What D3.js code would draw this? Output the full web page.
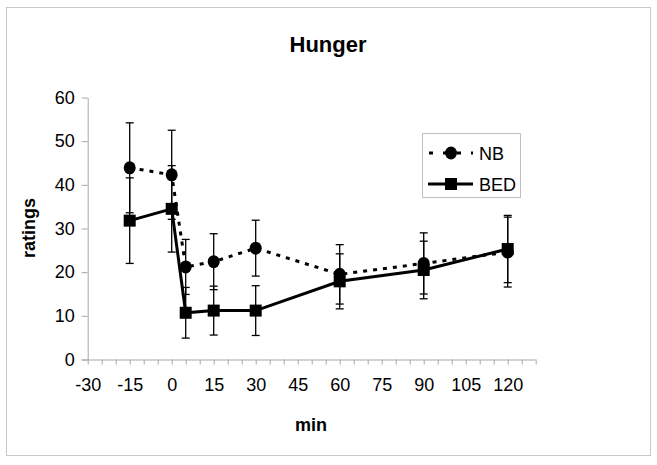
<!DOCTYPE html>
<html>
<head>
<meta charset="utf-8">
<script src="https://cdn.jsdelivr.net/npm/d3@7"></script>
<style>
  body { margin: 0; background: #fff; }
  svg { display: block; font-family: 'Liberation Sans', Arial, sans-serif; }
</style>
</head>
<body>
<svg id="canvas"></svg>
<script>
// time points (min)
let minutes = [-15, 0, 5, 15, 30, 60, 90, 120]

// NB group
let nbMean = [43.9, 42.3, 21.2, 22.4, 25.5, 19.5, 22.0, 24.6]
let nbErr = [10.3, 10.2, 6.3, 6.4, 6.4, 6.8, 7.0, 8.0]

// BED group
let bedMean = [31.8, 34.5, 10.7, 11.2, 11.2, 17.9, 20.5, 25.3]
let bedErr = [9.8, 9.9, 5.8, 5.6, 5.7, 6.3, 6.6, 7.7]

let xTicks = d3.range(-30, 131, 5)
let yTicks = [0, 10, 20, 30, 40, 50, 60]

let width = 657
let height = 465

let svg = d3.select('#canvas')
    .attr('width', width)
    .attr('height', height)

// outer frame
svg.append('rect')
    .attr('x', 6.5).attr('y', 7.5)
    .attr('width', 644).attr('height', 448)
    .attr('fill', 'none')
    .attr('stroke', '#c8c8c8')

let xScale = d3.scaleLinear().domain([-30, 130]).range([87.7, 535.7])
let yScale = d3.scaleLinear().domain([0, 60]).range([359.5, 97.5])

// axes
let xAxis = d3.axisBottom(xScale)
    .tickValues(xTicks)
    .tickSize(5)
    .tickSizeOuter(0)
    .tickPadding(14)
    .tickFormat(d => (d % 15 === 0 && d <= 120) ? d : '')

let yAxis = d3.axisLeft(yScale)
    .tickValues(yTicks)
    .tickSize(6)
    .tickSizeOuter(0)
    .tickPadding(7)

let gx = svg.append('g')
    .attr('transform', 'translate(0,' + yScale(0) + ')')
    .call(xAxis)

let gy = svg.append('g')
    .attr('transform', 'translate(' + xScale(-30) + ',0)')
    .call(yAxis)

gx.select('.domain').attr('d', 'M' + (xScale(-30) - 6) + ',0.5H' + xScale(130))
;[gx, gy].forEach(g => {
    g.select('.domain').attr('stroke', '#a8a8a8')
    g.selectAll('.tick line').attr('stroke', '#a8a8a8')
    g.selectAll('.tick text')
        .attr('fill', '#000')
        .style('font-size', '18px')
        .style('font-family', "'Liberation Sans', Arial, sans-serif")
})

// titles
svg.append('text')
    .attr('x', 328).attr('y', 52)
    .attr('text-anchor', 'middle')
    .style('font-size', '22px').style('font-weight', 'bold')
    .text('Hunger')

svg.append('text')
    .attr('x', 311).attr('y', 431)
    .attr('text-anchor', 'middle')
    .style('font-size', '18px').style('font-weight', 'bold')
    .text('min')

svg.append('text')
    .attr('transform', 'translate(35,228) rotate(-90)')
    .attr('text-anchor', 'middle')
    .style('font-size', '18px').style('font-weight', 'bold')
    .text('ratings')

let line = d3.line()
    .x(d => xScale(d[0]))
    .y(d => yScale(d[1]))

let drawSeries = (means, errs, dashed, marker) => {
    let pts = minutes.map((m, i) => [m, means[i], errs[i]])

    // error bars
    let eb = svg.append('g').attr('stroke', '#000').attr('stroke-width', 1.3)
    pts.forEach(p => {
        let x = xScale(p[0])
        let y1 = yScale(p[1] + p[2])
        let y2 = yScale(Math.max(0, p[1] - p[2]))
        eb.append('line').attr('x1', x).attr('x2', x).attr('y1', y1).attr('y2', y2)
        eb.append('line').attr('x1', x - 4).attr('x2', x + 4).attr('y1', y1).attr('y2', y1)
        eb.append('line').attr('x1', x - 4).attr('x2', x + 4).attr('y1', y2).attr('y2', y2)
    })

    svg.append('path')
        .datum(pts)
        .attr('d', line)
        .attr('fill', 'none')
        .attr('stroke', '#000')
        .attr('stroke-width', 3)
        .attr('stroke-dasharray', dashed ? '4,6' : null)

    if (marker === 'circle') {
        svg.selectAll('.nbdot')
            .data(pts)
            .enter()
            .append('ellipse')
            .attr('class', 'nbdot')
            .attr('cx', d => xScale(d[0]))
            .attr('cy', d => yScale(d[1]))
            .attr('rx', 6).attr('ry', 6.5)
            .attr('fill', '#000')
    } else {
        svg.selectAll('.bedsq')
            .data(pts)
            .enter()
            .append('rect')
            .attr('class', 'bedsq')
            .attr('x', d => xScale(d[0]) - 6)
            .attr('y', d => yScale(d[1]) - 6)
            .attr('width', 12).attr('height', 12)
            .attr('fill', '#000')
    }
}

drawSeries(nbMean, nbErr, true, 'circle')
drawSeries(bedMean, bedErr, false, 'square')

// legend
let lg = svg.append('g')
lg.append('rect')
    .attr('x', 422.5).attr('y', 133.5)
    .attr('width', 98).attr('height', 64)
    .attr('fill', '#fff')
    .attr('stroke', '#c0c0c0')

lg.append('line')
    .attr('x1', 429).attr('x2', 473).attr('y1', 153).attr('y2', 153)
    .attr('stroke', '#000').attr('stroke-width', 3)
    .attr('stroke-dasharray', '4,10')
lg.append('ellipse').attr('cx', 451).attr('cy', 153).attr('rx', 6).attr('ry', 6.5).attr('fill', '#000')
lg.append('text').attr('x', 479).attr('y', 160).style('font-size', '18px').text('NB')

lg.append('line')
    .attr('x1', 428).attr('x2', 473).attr('y1', 184).attr('y2', 184)
    .attr('stroke', '#000').attr('stroke-width', 3)
lg.append('rect').attr('x', 445).attr('y', 178).attr('width', 12).attr('height', 12).attr('fill', '#000')
lg.append('text').attr('x', 479).attr('y', 191).style('font-size', '18px').text('BED')
</script>
</body>
</html>
